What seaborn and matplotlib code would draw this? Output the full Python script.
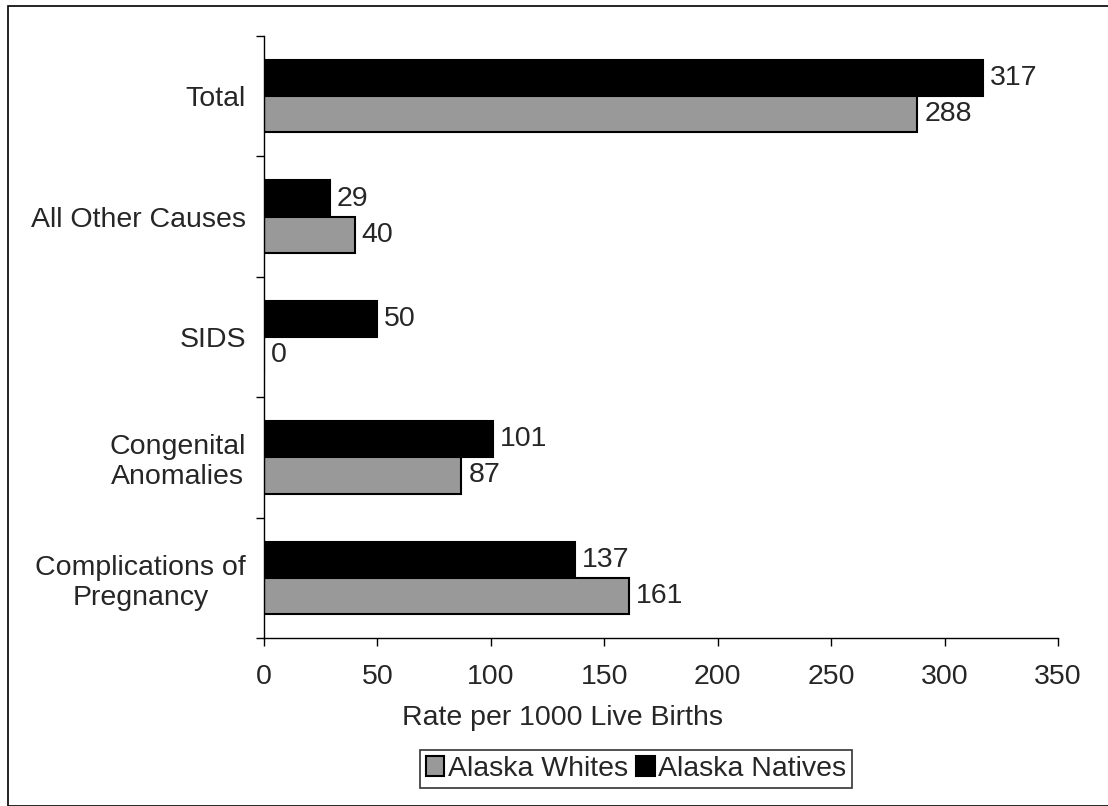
import numpy as np
import pandas as pd
import matplotlib
matplotlib.use('Agg')
import matplotlib.pyplot as plt
import seaborn as sns
from matplotlib.patches import Patch, Rectangle

# Данные
causes = ['Total', 'All Other Causes', 'SIDS', 'Congenital\nAnomalies', 'Complications of\nPregnancy']
natives = [317, 29, 50, 101, 137]
whites = [288, 40, 0, 87, 161]

df = pd.DataFrame({
    'cause': causes * 2,
    'group': ['Alaska Natives'] * len(causes) + ['Alaska Whites'] * len(causes),
    'rate': natives + whites,
})

sns.set_style('white')
plt.rcParams['font.family'] = ['Liberation Sans', 'DejaVu Sans']
FS = 20.5

fig = plt.figure(figsize=(11.08, 8.06), dpi=100)
ax = fig.add_axes([264 / 1108, 1 - 638 / 806, (1058 - 264) / 1108, (638 - 36) / 806])

palette = {'Alaska Natives': '#000000', 'Alaska Whites': '#999999'}
sns.barplot(data=df, y='cause', x='rate', hue='group', order=causes,
            hue_order=['Alaska Natives', 'Alaska Whites'], palette=palette,
            orient='h', width=0.6, edgecolor='black', linewidth=1.5,
            saturation=1, legend=False, ax=ax)

for cont in ax.containers:
    ax.bar_label(cont, fmt='%d', padding=5, fontsize=FS)

ax.set_xlim(0, 350)
ax.set_ylim(4.5, -0.5)
ax.set_xticks(np.arange(0, 351, 50))
ax.set_yticks(range(len(causes)))
ax.set_yticklabels(causes, ha='right', multialignment='center')
ax.set_yticks(np.arange(-0.5, len(causes), 1), minor=True)
ax.tick_params(axis='y', which='major', left=True, length=0, pad=13, labelsize=FS)
ax.tick_params(axis='y', which='minor', left=True, length=6, width=1, color='black', direction='out')
ax.tick_params(axis='x', bottom=True, length=6, width=1, color='black', direction='out', labelsize=FS, pad=13)
ax.set_xlabel('')
ax.set_ylabel('')
fig.text(562 / 1108, 1 - 718 / 806, 'Rate per 1000 Live Births', fontsize=FS, ha='center', va='center')

for s in ['top', 'right']:
    ax.spines[s].set_visible(False)
for s in ['left', 'bottom']:
    ax.spines[s].set_color('black')
    ax.spines[s].set_linewidth(1)

handles = [Patch(facecolor='#999999', edgecolor='black', linewidth=1.5, label='Alaska Whites'),
           Patch(facecolor='#000000', edgecolor='black', linewidth=1.5, label='Alaska Natives')]
leg = fig.legend(handles=handles, loc='center', bbox_to_anchor=(636 / 1108, 1 - 769 / 806),
                 ncol=2, fontsize=FS, frameon=True, fancybox=False, handlelength=0.65,
                 handleheight=0.65, handletextpad=0.12, columnspacing=0.3, borderpad=0.2,
                 borderaxespad=0)
leg.get_frame().set_edgecolor('black')
leg.get_frame().set_linewidth(1.2)

# рамка вокруг рисунка
fig.patches.append(Rectangle((8 / 1108, 0), 1.2, 1 - 6 / 806, transform=fig.transFigure,
                             fill=False, edgecolor='black', linewidth=1.2))

fig.savefig('out.png', dpi=100)
